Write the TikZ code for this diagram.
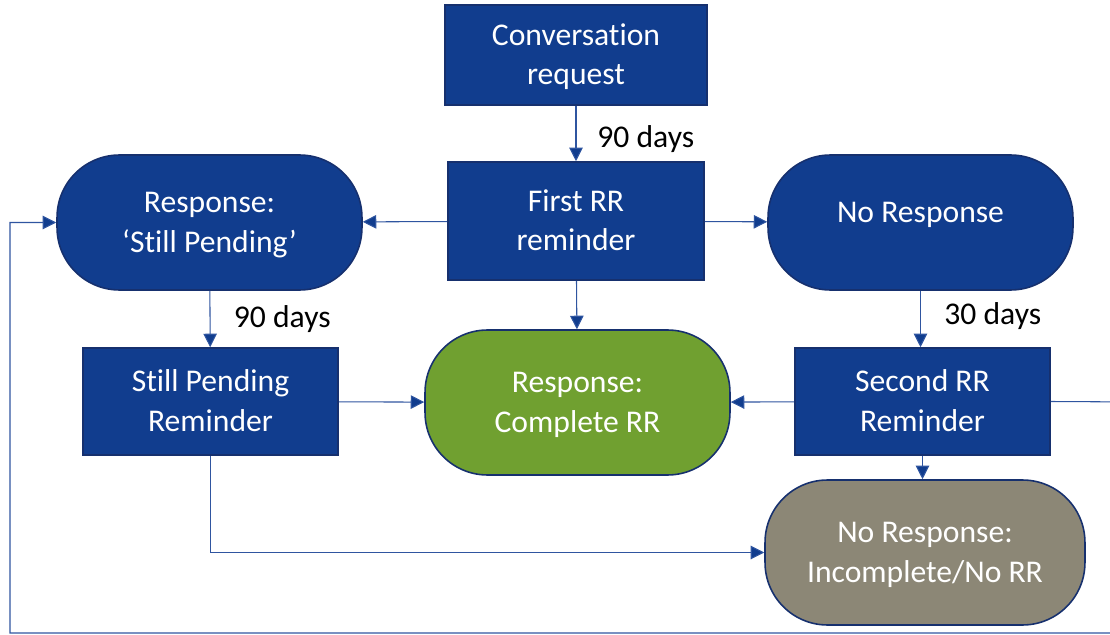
\documentclass[tikz,border=0pt]{standalone}
\usepackage{fontspec}
\setmainfont{Carlito}[Ligatures=NoCommon]
\usetikzlibrary{arrows.meta,calc}
\definecolor{boxblue}{RGB}{17,61,142}
\definecolor{edgeblue}{RGB}{22,48,110}
\definecolor{lineblue}{RGB}{47,85,160}
\definecolor{okgreen}{RGB}{112,160,48}
\definecolor{stonegray}{RGB}{140,135,118}
\tikzset{
    stepbox/.style = {draw=edgeblue, line width=0.9pt, fill=boxblue, text=white,
        align=center, inner sep=0pt, font=\fontsize{18}{22.5}\selectfont,
        text height=39.5pt, text depth=5.5pt},
    oneline/.style = {text height=6pt, text depth=6pt},
    endbox/.style = {stepbox, rounded corners=1.25cm},
    flow/.style = {draw=lineblue, line width=0.6pt,
        -{Triangle[length=0.27cm,width=0.27cm,fill=boxblue]}},
    days/.style = {anchor=west, font=\fontsize{18}{22.5}\selectfont}
}
\begin{document}
\begin{tikzpicture}[x=0.02cm,y=-0.02cm]
    \useasboundingbox (0,0) rectangle (1110,635);

    \node[stepbox, minimum width=5.24cm, minimum height=2.0cm] (conv) at (576,55) {Conversation\\request};
    \node[stepbox, minimum width=5.12cm, minimum height=2.36cm] (first) at (576,221) {First RR\\reminder};
    \node[endbox, minimum width=6.1cm, minimum height=2.7cm] (pend) at (209.5,222.5) {Response:\\‘Still Pending’};
    \node[endbox, oneline, minimum width=6.1cm, minimum height=2.7cm] (nores) at (920.5,222.5) {No Response};

    \node[stepbox, minimum width=5.1cm, minimum height=2.14cm] (pendrem) at (210.5,401.5) {Still Pending\\Reminder};
    \node[endbox, fill=okgreen, minimum width=6.1cm, minimum height=2.9cm] (done) at (577.5,402.5) {Response:\\Complete RR};
    \node[stepbox, minimum width=5.1cm, minimum height=2.14cm] (second) at (922.5,401.5) {Second RR\\Reminder};
    \node[endbox, fill=stonegray, minimum width=6.4cm, minimum height=2.9cm] (nodone) at (925,552.5) {No Response:\\Incomplete/No RR};

    % loop back round the outside
    \coordinate (rgt) at (1140,402);
    \coordinate (btm) at (10,633);

    \draw[flow] (conv) -- node[days, pos=0.6, xshift=0.3cm] (d1) {90 days} (first);
    \draw[flow] (first) -- (pend);
    \draw[flow] (first) -- (nores);
    \draw[flow] (first) -- (done);
    \draw[flow] (pend) -- node[days, pos=0.5, xshift=0.35cm] (d2) {90 days} (pendrem);
    \draw[flow] (nores.south) -- node[days, pos=0.45, xshift=0.35cm] (d3) {30 days} (nores.south |- second.north);
    \draw[flow] (pendrem) -- (done);
    \draw[flow] (second) -- (done);
    \draw[flow] (second.south) -- (second.south |- nodone.north);
    \draw[flow] (pendrem.south) |- (nodone.west);
    \draw[flow] (second.east) -- (rgt) |- (btm) |- (pend.west);
\end{tikzpicture}
\end{document}
